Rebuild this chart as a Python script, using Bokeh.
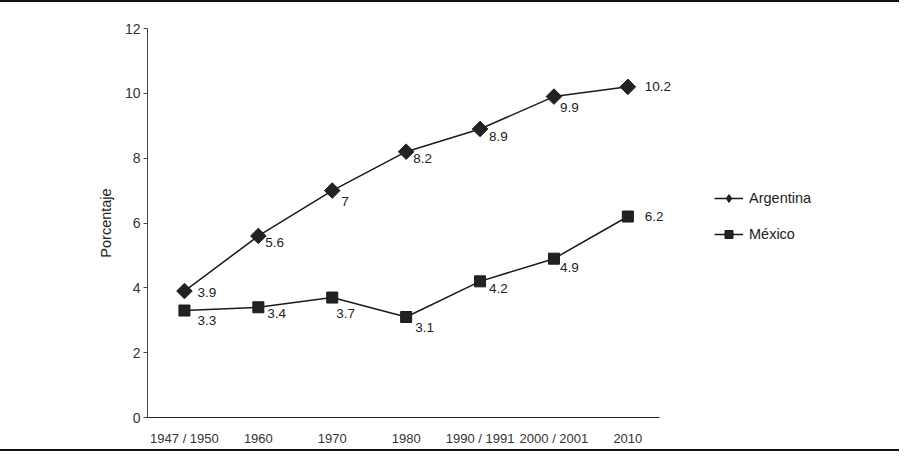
import math
from bokeh.plotting import figure
from bokeh.models import (ColumnDataSource, Range1d, FactorRange, FixedTicker, Legend,
                          LegendItem, LabelSet)
from bokeh.core.properties import value
from bokeh.embed import file_html
from bokeh.resources import INLINE

categories = ["1947 / 1950", "1960", "1970", "1980", "1990 / 1991", "2000 / 2001", "2010"]
argentina = [3.9, 5.6, 7, 8.2, 8.9, 9.9, 10.2]
mexico = [3.3, 3.4, 3.7, 3.1, 4.2, 4.9, 6.2]
argentina_labels = ["3.9", "5.6", "7", "8.2", "8.9", "9.9", "10.2"]
mexico_labels = ["3.3", "3.4", "3.7", "3.1", "4.2", "4.9", "6.2"]
y_ticks = [0, 2, 4, 6, 8, 10, 12]
# empty slots to the right of the data, leaving room for the legend and end labels
spare_slots = ["", " ", "  "]

# label placement (screen pixel offsets from each marker; dy = downward)
arg_dx = [13, 7, 9, 7, 9, 6, 17]
arg_dy = [1, 7, 11, 7, 8, 11, 0]
mex_dx = [13, 9, 4, 9, 9, 6, 17]
mex_dy = [10, 6, 16, 10, 7, 9, 0]

FONT = "Liberation Sans"
INK = "#1a1a1a"

src_a = ColumnDataSource(dict(x=categories, y=argentina, t=argentina_labels,
                              dx=arg_dx, dy=[-d for d in arg_dy]))
src_m = ColumnDataSource(dict(x=categories, y=mexico, t=mexico_labels,
                              dx=mex_dx, dy=[-d for d in mex_dy]))

p = figure(width=899, height=451, output_backend="svg", toolbar_location=None,
           x_range=FactorRange(*(categories + spare_slots), range_padding=0),
           y_range=Range1d(0, 12),
           min_border_left=147, min_border_right=13, min_border_top=26, min_border_bottom=36)
p.styles = {"border-top": "2px solid #111", "border-bottom": "2px solid #111"}
p.outline_line_color = None
p.xgrid.grid_line_color = None
p.ygrid.grid_line_color = None

la = p.line("x", "y", source=src_a, line_color=INK, line_width=1.5)
sa = p.scatter("x", "y", source=src_a, marker="square", angle=math.pi / 4, size=11,
               fill_color="#222222", line_color=INK)
lm = p.line("x", "y", source=src_m, line_color=INK, line_width=1.5)
sm = p.scatter("x", "y", source=src_m, marker="square", size=11,
               fill_color="#222222", line_color=INK)
# legend-only diamond (hidden in the plot area)
sa_leg = p.scatter("x", "y", source=src_a, marker="diamond", size=16,
                   fill_color="#222222", line_color=INK, visible=False)

for src in (src_a, src_m):
    p.add_layout(LabelSet(x="x", y="y", text="t", source=src, x_offset="dx", y_offset="dy",
                          text_font=value(FONT), text_font_size=value("13.5px"),
                          text_color="#222222", text_align="left", text_baseline="middle"))

# axes
p.yaxis.ticker = FixedTicker(ticks=y_ticks)
p.yaxis.minor_tick_line_color = None
p.yaxis.major_tick_in = 0
p.yaxis.major_tick_out = 4
p.yaxis.axis_line_color = "#444444"
p.yaxis.major_tick_line_color = "#444444"
p.yaxis.major_label_text_font = FONT
p.yaxis.major_label_text_font_size = "14px"
p.yaxis.major_label_text_color = "#333333"
p.yaxis.major_label_standoff = 3
p.yaxis.axis_label = "Porcentaje"
p.yaxis.axis_label_text_font = FONT
p.yaxis.axis_label_text_font_style = "normal"
p.yaxis.axis_label_text_font_size = "14.5px"
p.yaxis.axis_label_text_color = "#222222"
p.yaxis.axis_label_standoff = 8

p.xaxis.bounds = (0, len(categories) - 0.07)
p.xaxis.major_tick_line_color = None
p.xaxis.minor_tick_line_color = None
p.xaxis.axis_line_color = "#222222"
p.xaxis.axis_line_width = 1.2
p.xaxis.major_label_text_font = FONT
p.xaxis.major_label_text_font_size = "13px"
p.xaxis.major_label_text_color = "#333333"
p.xaxis.major_label_standoff = 7

legend = Legend(items=[LegendItem(label="Argentina", renderers=[la, sa_leg]),
                       LegendItem(label="México", renderers=[lm, sm])],
                location=(567, 173), padding=0, margin=0, spacing=16,
                glyph_width=29, glyph_height=20, label_height=20, label_standoff=6,
                border_line_alpha=0, background_fill_alpha=0,
                label_text_font=FONT, label_text_font_size="14.5px",
                label_text_color="#222222")
p.add_layout(legend, "center")

open("out.html", "w").write(file_html(p, INLINE))
